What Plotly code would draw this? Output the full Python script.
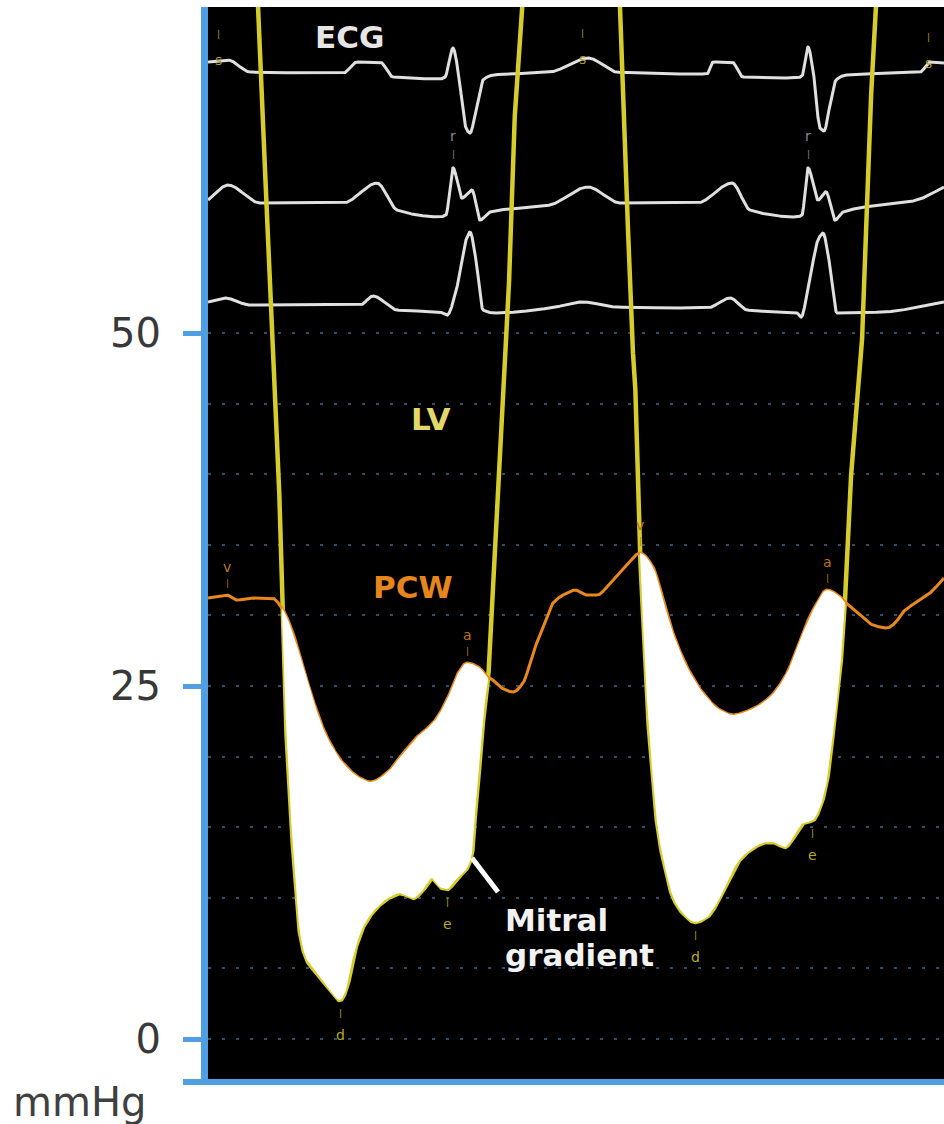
import numpy as np
import plotly.graph_objects as go

# ---------------- data (time in ms, pressure in mmHg) ----------------
t_ecg1 = [0, 40, 84, 270, 298, 344, 370, 464, 474, 490, 500, 516, 524, 536, 550, 570, 684, 760, 818, 998,
          1010, 1048, 1070, 1178, 1188, 1200, 1210, 1224, 1232, 1244, 1256, 1276, 1424, 1444, 1472]
ecg1 = [69.19, 69.33, 68.48, 68.41, 69.19, 69.19, 68.13, 67.99, 68.13, 70.18, 68.63, 64.52, 64.16, 65.79,
        67.92, 68.27, 68.48, 69.48, 68.48, 68.34, 69.19, 69.19, 68.13, 68.06, 68.20, 70.25, 68.63, 64.52,
        64.31, 66.15, 67.92, 68.27, 68.48, 69.19, 69.12]

t_ecg2 = [0, 40, 104, 270, 338, 378, 464, 476, 490, 508, 528, 544, 564, 684, 760, 824, 978, 1048, 1084,
          1178, 1188, 1200, 1220, 1236, 1254, 1270, 1418, 1472]
ecg2 = [59.42, 60.48, 59.21, 59.21, 60.62, 58.71, 58.22, 58.36, 61.69, 59.56, 60.13, 58.00, 58.57, 59.07,
        60.34, 59.21, 59.21, 60.62, 58.71, 58.22, 58.36, 61.69, 59.42, 60.00, 58.00, 58.57, 59.42, 60.34]

t_ecg3 = [0, 34, 84, 304, 330, 378, 464, 478, 498, 516, 524, 536, 550, 574, 684, 750, 818, 998, 1044, 1078,
          1178, 1186, 1200, 1220, 1230, 1242, 1258, 1350, 1472]
ecg3 = [52.20, 52.48, 51.98, 51.98, 52.62, 51.63, 51.49, 51.27, 53.26, 56.59, 57.15, 55.17, 51.63, 51.42,
        51.77, 52.20, 51.84, 51.77, 52.48, 51.63, 51.42, 51.13, 53.05, 56.59, 57.08, 55.17, 51.42, 51.49, 52.20]

t_lv = [0, 94, 100, 114, 130, 140, 144, 148, 154, 164, 168, 178, 184, 198, 218, 240, 264, 278, 290, 310,
        338, 364, 384, 410, 430, 448, 464, 478, 498, 518, 528, 536, 544, 554, 560, 566, 576, 584, 592, 598,
        610, 628, 634, 746, 818, 824, 836, 848, 854, 860, 864, 878, 890, 900, 914, 930, 950, 974, 998, 1018,
        1038, 1058, 1084, 1118, 1130, 1154, 1170, 1190, 1210, 1224, 1238, 1248, 1258, 1274, 1280, 1294, 1308,
        1320, 1334, 1340, 1472]
p_lv = [105, 78.1, 73.09, 61.54, 49.50, 41.71, 36.76, 30.38, 24.01, 16.93, 14.59, 9.84, 7.51, 5.59, 4.67,
        3.68, 2.76, 3.68, 5.81, 7.93, 9.35, 10.06, 10.34, 9.99, 10.55, 11.40, 10.76, 10.62, 11.40, 12.11,
        13.17, 16.93, 19.76, 24.01, 25.42, 29.67, 35.34, 41.71, 46.67, 49.50, 62.96, 73.09, 78.1, 110, 78.1,
        73.09, 61.54, 49.50, 46.67, 37.46, 34.42, 24.01, 18.34, 14.80, 12.18, 10.06, 8.92, 8.29, 8.64, 9.63,
        11.05, 12.46, 13.39, 13.95, 13.95, 13.60, 14.24, 15.30, 15.51, 16.43, 18.34, 21.18, 24.01, 31.09,
        36.76, 43.13, 49.50, 61.54, 73.09, 78.1, 110]

t_pcw = [0, 20, 38, 58, 84, 128, 148, 170, 190, 210, 238, 270, 304, 324, 358, 384, 418, 450, 478, 498,
         518, 544, 558, 564, 584, 610, 630, 650, 670, 690, 718, 734, 758, 778, 804, 838, 864, 890, 910, 930,
         958, 990, 1024, 1050, 1084, 1124, 1158, 1184, 1210, 1238, 1260, 1274, 1298, 1330, 1358, 1374, 1390,
         1424, 1444, 1472]
p_pcw = [31.23, 31.30, 31.44, 31.09, 31.23, 31.23, 30.52, 28.75, 26.35, 24.01, 21.39, 19.55, 18.48, 18.20,
         18.84, 19.97, 21.39, 22.38, 24.01, 25.78, 26.63, 26.27, 25.64, 25.57, 24.93, 24.58, 25.21, 27.34,
         29.18, 30.88, 31.59, 31.80, 31.44, 31.44, 32.29, 33.57, 34.42, 33.43, 31.09, 28.75, 26.35, 24.50,
         23.30, 22.95, 23.30, 24.22, 25.92, 28.26, 30.38, 31.80, 31.44, 30.95, 30.24, 29.32, 29.11, 29.46,
         30.24, 31.09, 31.59, 32.65]

# event markers (labels and times in ms)
ecg_s_times = [20, 748, 1440]
ecg_r_times = [490, 1200]
pcw_event_labels = ["v", "a", "v", "a"]
pcw_event_times = [38, 518, 864, 1238]
lv_event_labels = ["d", "e", "d", "e"]
lv_event_times = [264, 478, 974, 1208]

y_tickvals = [0, 25, 50]
y_ticktext = ["0", "25", "50"]
y_minorvals = [5, 10, 15, 20, 30, 35, 40, 45]


def pchip(x, y, xq):
    """Monotone piecewise cubic Hermite interpolation (smooth curve through the read points)."""
    x = np.asarray(x, float)
    y = np.asarray(y, float)
    h = np.diff(x)
    d = np.diff(y) / h
    m = np.zeros_like(y)
    m[0], m[-1] = d[0], d[-1]
    for k in range(1, len(x) - 1):
        if d[k - 1] * d[k] <= 0:
            m[k] = 0.0
        else:
            w1 = 2 * h[k] + h[k - 1]
            w2 = h[k] + 2 * h[k - 1]
            m[k] = (w1 + w2) / (w1 / d[k - 1] + w2 / d[k])
    i = np.clip(np.searchsorted(x, xq) - 1, 0, len(x) - 2)
    s = (xq - x[i]) / h[i]
    h00 = 2 * s**3 - 3 * s**2 + 1
    h10 = s**3 - 2 * s**2 + s
    h01 = -2 * s**3 + 3 * s**2
    h11 = s**3 - s**2
    return h00 * y[i] + h10 * h[i] * m[i] + h01 * y[i + 1] + h11 * h[i] * m[i + 1]


# ---------------- styling ----------------
BLUE = "#4f9fe2"
GRID = "#2c5068"
YELLOW = "#d6cc2c"
ORANGE = "#e8891c"
ECG_COL = "#e0e0e0"

tg = np.arange(0, 1472.25, 0.25)

fig = go.Figure()

for tx, vy in [(t_ecg1, ecg1), (t_ecg2, ecg2), (t_ecg3, ecg3)]:
    fig.add_trace(go.Scatter(x=tg, y=pchip(tx, vy, tg), mode="lines",
                             line=dict(color=ECG_COL, width=3),
                             hoverinfo="skip", showlegend=False))

lg = pchip(t_lv, p_lv, tg)
pg = pchip(t_pcw, p_pcw, tg)

fig.add_trace(go.Scatter(x=tg, y=lg, mode="lines", line=dict(color=YELLOW, width=4.5),
                         hoverinfo="skip", showlegend=False))
fig.add_trace(go.Scatter(x=tg, y=pg, mode="lines", line=dict(color=ORANGE, width=3),
                         hoverinfo="skip", showlegend=False))

# mitral gradient fill: area where PCW exceeds LV
mask = pg > lg
idx = np.flatnonzero(np.diff(np.concatenate(([0], mask.astype(int), [0]))))
for s, e in zip(idx[0::2], idx[1::2]):
    xs = np.concatenate((tg[s:e], tg[s:e][::-1]))
    ys = np.concatenate((pg[s:e], lg[s:e][::-1]))
    fig.add_trace(go.Scatter(x=xs, y=ys, mode="lines", fill="toself", fillcolor="white",
                             line=dict(width=0, color="white"), hoverinfo="skip", showlegend=False))

ann = []
small = dict(family="DejaVu Sans", size=14)
tick_font = dict(family="DejaVu Sans", size=9)
for t in ecg_s_times:
    y = float(np.interp(t, t_ecg1, ecg1))
    ann.append(dict(x=t, y=y, text="s", showarrow=False, yshift=1,
                    font=dict(small, color="#a99c22")))
    ann.append(dict(x=t, y=y, text="|", showarrow=False, yshift=27,
                    font=dict(tick_font, color="#a99c22")))
for t in ecg_r_times:
    y = float(np.interp(t, t_ecg2, ecg2))
    ann.append(dict(x=t, y=y, text="r", showarrow=False, yshift=32,
                    font=dict(small, color="#8a8a8a")))
    ann.append(dict(x=t, y=y, text="|", showarrow=False, yshift=14,
                    font=dict(tick_font, color="#8a8a8a")))
for lab, t in zip(pcw_event_labels, pcw_event_times):
    y = float(np.interp(t, t_pcw, p_pcw))
    ann.append(dict(x=t, y=y, text=lab, showarrow=False, yshift=28,
                    font=dict(small, color="#b8731c")))
    ann.append(dict(x=t, y=y, text="|", showarrow=False, yshift=12,
                    font=dict(tick_font, color="#b8731c")))
for lab, t in zip(lv_event_labels, lv_event_times):
    y = float(np.interp(t, t_lv, p_lv))
    ann.append(dict(x=t, y=y, text=lab, showarrow=False, yshift=-35,
                    font=dict(small, color="#b5aa22")))
    ann.append(dict(x=t, y=y, text="|", showarrow=False, yshift=-13,
                    font=dict(tick_font, color="#b5aa22")))

big = dict(family="DejaVu Sans", size=31)
ann += [
    dict(x=282, y=71.0, text="<b>ECG</b>", showarrow=False, font=dict(big, color="#e6e6e6")),
    dict(x=444, y=43.9, text="<b>LV</b>", showarrow=False, font=dict(big, color="#e2d86a")),
    dict(x=410, y=32.0, text="<b>PCW</b>", showarrow=False, font=dict(big, color="#e8861e")),
    dict(x=590, y=8.43, text="<b>Mitral</b>", showarrow=False, xanchor="left",
         font=dict(big, color="#f2f2f2")),
    dict(x=590, y=5.95, text="<b>gradient</b>", showarrow=False, xanchor="left",
         font=dict(big, color="#f2f2f2")),
    dict(x=-0.268, y=-0.0215, xref="paper", yref="paper", text="mmHg", showarrow=False,
         xanchor="left", yanchor="middle", font=dict(family="DejaVu Sans", size=40, color="#404040")),
]

# pointer for the mitral gradient label, anchored on the LV trace
ptr_t = 528
ptr_y = float(np.interp(ptr_t, t_lv, p_lv))
shapes = [
    dict(type="line", xref="x", yref="y", xsizemode="pixel", ysizemode="pixel",
         xanchor=ptr_t, yanchor=ptr_y, x0=0, y0=-5, x1=26, y1=-39,
         line=dict(color="white", width=5)),
    dict(type="line", xref="paper", yref="paper", x0=-25 / 736, x1=0, y0=-3 / 1072, y1=-3 / 1072,
         line=dict(color=BLUE, width=6)),
]

fig.update_layout(
    width=944, height=1124,
    margin=dict(l=208, r=0, t=7, b=45),
    paper_bgcolor="white", plot_bgcolor="black",
    showlegend=False, hovermode=False,
    annotations=ann, shapes=shapes,
    xaxis=dict(range=[0, 1472], showgrid=False, zeroline=False, showticklabels=False, ticks="",
               showline=True, linecolor=BLUE, linewidth=6, fixedrange=True),
    yaxis=dict(range=[-2.83, 73.09], tickmode="array", tickvals=y_tickvals, ticktext=y_ticktext,
               ticks="outside", ticklen=18, tickwidth=5, tickcolor=BLUE,
               showline=True, linecolor=BLUE, linewidth=7, zeroline=False,
               showgrid=True, gridcolor=GRID, griddash="3px,11px", gridwidth=1.5,
               tickfont=dict(family="DejaVu Sans", size=40, color="#383838"),
               ticklabelstandoff=14, fixedrange=True,
               minor=dict(tickmode="array", tickvals=y_minorvals, showgrid=True, gridcolor=GRID,
                          griddash="3px,11px", gridwidth=1.5, ticks="")),
)

fig.write_html("out.html", config={"displayModeBar": False})
